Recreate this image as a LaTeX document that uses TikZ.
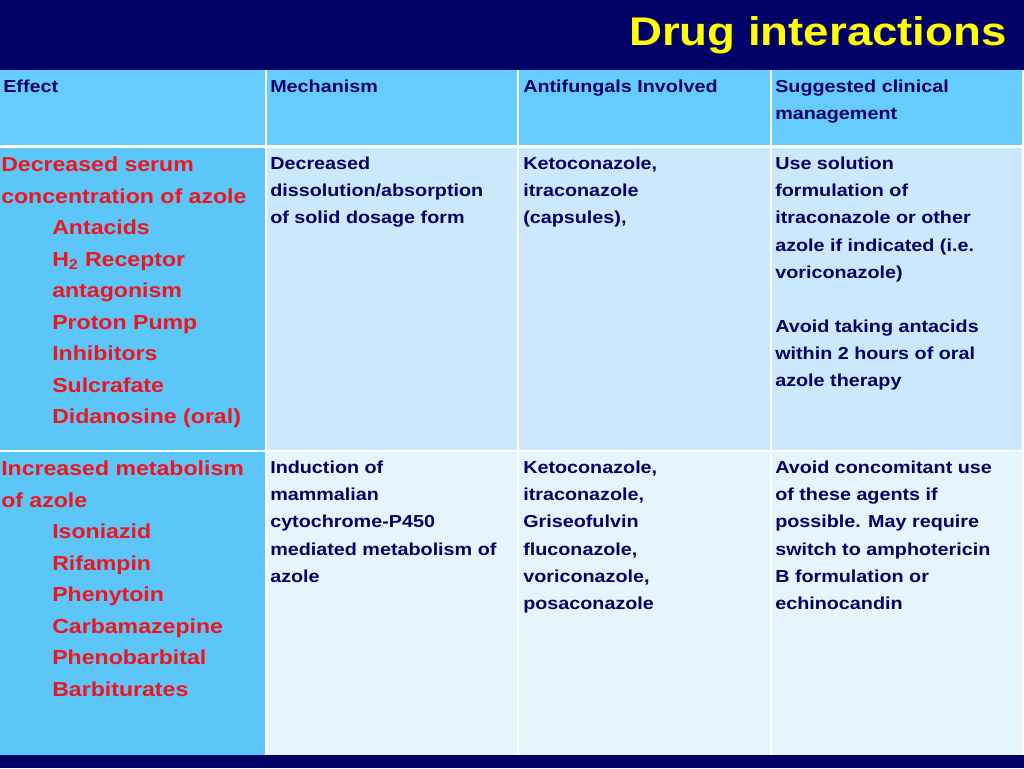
\documentclass[tikz,border=0pt]{standalone}
\usepackage{fontspec}
\setmainfont{Liberation Sans}[FakeStretch=1.14]
\definecolor{bg}{HTML}{000066}
\definecolor{hdr}{HTML}{66CCFF}
\definecolor{c1}{HTML}{5BC6F7}
\definecolor{r1}{HTML}{CCE8FC}
\definecolor{r2}{HTML}{E6F4FD}
\definecolor{navy}{HTML}{000066}
\definecolor{rd}{HTML}{F0141E}
\definecolor{ttl}{HTML}{FFFF00}
\begin{document}
\begin{tikzpicture}[x=0.75pt,y=-0.75pt,
  txt/.style={anchor=north west,inner sep=0,align=left,font=\fontsize{13}{20.3}\selectfont\bfseries,text=navy},
  lft/.style={anchor=north west,inner sep=0,align=left,font=\fontsize{15.2}{23.6}\selectfont\bfseries,text=rd}]
\fill[bg] (0,0) rectangle (1024,768);
\useasboundingbox (0,0) rectangle (1024,768);
\node[anchor=base east,inner sep=0,text=ttl,font=\fontsize{30}{30}\selectfont\bfseries] (title) at (1007,45) {Drug interactions};
\fill[white] (0,70) rectangle (1024,755);
\foreach \a/\b in {0/265,267/517,519/770,772/1022}{
  \fill[hdr] (\a,70) rectangle (\b,145);
  \fill[c1] (\a,148) rectangle (\b,450);
  \fill[c1] (\a,452) rectangle (\b,755);}
\foreach \a/\b in {267/517,519/770,772/1022}{
  \fill[r1] (\a,148) rectangle (\b,450);
  \fill[r2] (\a,452) rectangle (\b,755);}
\node[txt] (h1) at (3,80) {Effect};
\node[txt] (h2) at (270,80) {Mechanism};
\node[txt] (h3) at (523,80) {Antifungals Involved};
\node[txt] (h4) at (775,80) {Suggested clinical\\management};
\node[lft] (a1) at (1,157) {Decreased serum\\concentration of azole};
\node[lft] (a2) at (52,220) {Antacids\\H\textsubscript{2} Receptor\\antagonism\\Proton Pump\\Inhibitors\\Sulcrafate\\Didanosine (oral)};
\node[txt] (b1) at (270,157) {Decreased\\dissolution/absorption\\of solid dosage form};
\node[txt] (c1n) at (523,157) {Ketoconazole,\\itraconazole\\(capsules),};
\node[txt] (d1) at (775,157) {Use solution\\formulation of\\itraconazole or other\\azole if indicated (i.e.\\voriconazole)\\[20.3pt]Avoid taking antacids\\within 2 hours of oral\\azole therapy};
\node[lft] (a3) at (1,461) {Increased metabolism\\of azole};
\node[lft] (a4) at (52,524) {Isoniazid\\Rifampin\\Phenytoin\\Carbamazepine\\Phenobarbital\\Barbiturates};
\node[txt] (b2) at (270,461) {Induction of\\mammalian\\cytochrome-P450\\mediated metabolism of\\azole};
\node[txt] (c2) at (523,461) {Ketoconazole,\\itraconazole,\\Griseofulvin\\fluconazole,\\voriconazole,\\posaconazole};
\node[txt] (d2) at (775,461) {Avoid concomitant use\\of these agents if\\possible. May require\\switch to amphotericin\\B formulation or\\echinocandin};
\end{tikzpicture}
\end{document}
